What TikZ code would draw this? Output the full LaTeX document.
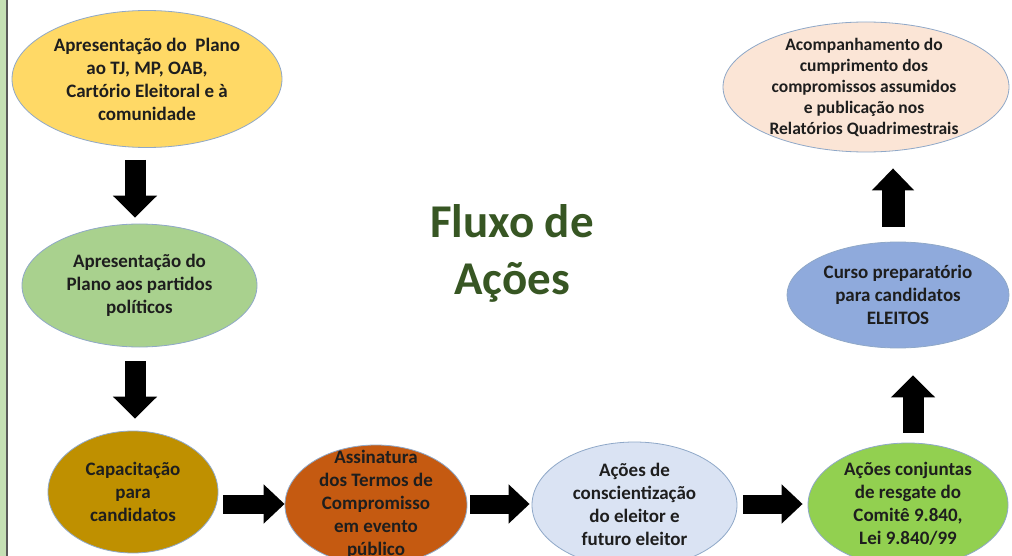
\documentclass[tikz,border=0pt]{standalone}
\usepackage{fontspec}
\setmainfont{Carlito}
\usetikzlibrary{shapes.geometric,arrows.meta,calc}
\definecolor{cYel}{HTML}{FFD966}
\definecolor{cGrn}{HTML}{A9D18E}
\definecolor{cGold}{HTML}{BF9000}
\definecolor{cOrg}{HTML}{C55A11}
\definecolor{cLblue}{HTML}{DAE3F3}
\definecolor{cLime}{HTML}{92D050}
\definecolor{cBlue}{HTML}{8FAADC}
\definecolor{cPeach}{HTML}{FBE5D6}
\definecolor{cTitle}{HTML}{375623}
\definecolor{cEdge}{HTML}{8FA8C8}
\definecolor{cBar}{HTML}{C5E0B4}
\definecolor{cTxt}{HTML}{1E1E1E}
\begin{document}
\begin{tikzpicture}[x=1pt,y=-1pt,
  ell/.style={ellipse,draw=cEdge,line width=0.8pt,inner sep=0pt},
  txt/.style={align=center,text=cTxt,font=\fontsize{19}{23}\selectfont\bfseries},
  vblk/.style={line width=21pt,-{Triangle[width=43pt,length=22pt]},black},
  hblk/.style={line width=19pt,-{Triangle[width=38pt,length=21pt]},black},
  ttl/.style={anchor=base,text=cTitle,font=\fontsize{47}{57}\selectfont\bfseries}]
\useasboundingbox (0,0) rectangle (1012,556);
\clip (0,0) rectangle (1012,556);
\fill[white] (0,0) rectangle (1012,556);
\fill[cBar] (0,0) rectangle (6.5,556);
\draw[black!65,line width=1.5pt] (7.2,0) -- (7.2,556);

% ellipses
\node[ell,fill=cYel,minimum width=270pt,minimum height=137pt] (e1) at (147,79) {};
\node[ell,fill=cGrn,minimum width=235pt,minimum height=123pt] (e2) at (139.5,285.5) {};
\node[ell,fill=cGold,minimum width=170pt,minimum height=122pt] (e3) at (133,492) {};
\node[ell,fill=cOrg,minimum width=182pt,minimum height=120pt] (e4) at (376,505) {};
\node[ell,fill=cLblue,minimum width=205pt,minimum height=126pt] (e5) at (634.5,505) {};
\node[ell,fill=cLime,minimum width=200pt,minimum height=124pt] (e6) at (908,505) {};
\node[ell,fill=cBlue,minimum width=222pt,minimum height=106pt] (e7) at (898,295) {};
\node[ell,fill=cPeach,minimum width=286pt,minimum height=130pt] (e8) at (866,87) {};

% texts
\node[txt] (t1) at (e1) {Apresentação do\ \ Plano\\ao TJ, MP, OAB,\\Cartório Eleitoral e à\\comunidade};
\node[txt] (t2) at (e2) {Apresentação do\\Plano aos partidos\\políticos};
\node[txt] (t3) at (e3) {Capacitação\\para\\candidatos};
\node[txt] (t4) at ($(e4)+(0,-1)$) {Assinatura\\dos Termos de\\Compromisso\\em evento\\público};
\node[txt] (t5) at ($(e5)+(0,-1)$) {Ações de\\conscientização\\do eleitor e\\futuro eleitor};
\node[txt] (t6) at ($(e6)+(0,-1)$) {Ações conjuntas\\de resgate do\\Comitê 9.840,\\Lei 9.840/99};
\node[txt] (t7) at (e7) {Curso preparatório\\para candidatos\\ELEITOS};
\node[txt,font=\fontsize{17.5}{21}\selectfont\bfseries] (t8) at ($(e8)+(-2,0)$) {Acompanhamento do\\cumprimento dos\\compromissos assumidos\\e publicação nos\\Relatórios Quadrimestrais};

% title
\node[ttl] (h1) at (512,237) {Fluxo de};
\node[ttl] (h2) at (512,294) {Ações};

% block arrows
\draw[vblk] ($(e1.south)+(-12,12)$) -- ($(e2.north)+(-4.5,-6)$);
\draw[vblk] ($(e2.south)+(-4.5,14)$) -- ($(e3.north)+(2,-12)$);
\draw[hblk] ($(e3.east)+(5,12)$) -- ($(e4.west)+(0,-1)$);
\draw[hblk] ($(e4.east)+(3,-1)$) -- ($(e5.west)+(-2,-1)$);
\draw[hblk] ($(e5.east)+(6,-1)$) -- ($(e6.west)+(-5,-1)$);
\draw[vblk] ($(e6.north)+(5,-10)$) -- ($(e7.south)+(15,27)$);
\draw[vblk,line width=23pt,-{Triangle[width=41pt,length=22pt]}] ($(e7.north)+(-5,-15)$) -- ($(e8.south)+(27,16)$);
\end{tikzpicture}
\end{document}
